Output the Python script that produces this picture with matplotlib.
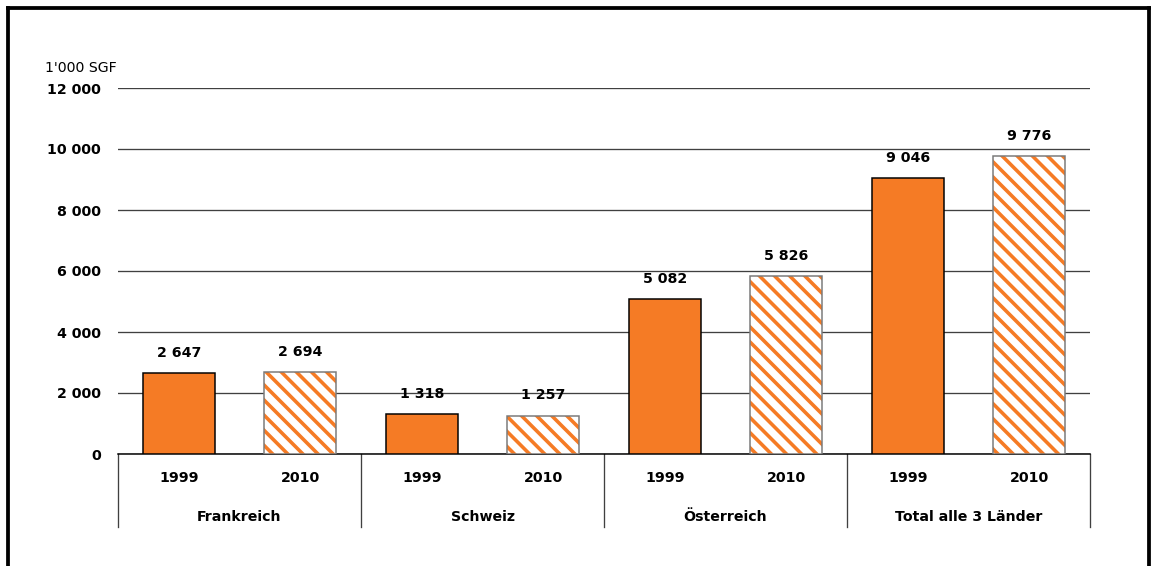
import matplotlib.pyplot as plt
from matplotlib.lines import Line2D
import matplotlib.transforms as mtransforms

# data
countries = ['Frankreich', 'Schweiz', 'Österreich', 'Total alle 3 Länder']
years = ['1999', '2010']
values_1999 = [2647, 1318, 5082, 9046]
values_2010 = [2694, 1257, 5826, 9776]
y_ticks = [0, 2000, 4000, 6000, 8000, 10000, 12000]

ORANGE = '#F57B25'
DPI = 136
W, H = 1156, 566

plt.rcParams['hatch.linewidth'] = 1.9
plt.rcParams['font.family'] = ['DejaVu Sans']

fig = plt.figure(figsize=(W / DPI, H / DPI), dpi=DPI)
ax = fig.add_axes([118 / W, 1 - 454 / H, (1090 - 118) / W, (454 - 88) / H])

def fmt(v):
    return f'{v:,}'.replace(',', ' ')

x1 = [2 * i for i in range(len(countries))]
x2 = [2 * i + 1 for i in range(len(countries))]
bw = 0.59

ax.bar(x1, values_1999, width=bw, color=ORANGE, edgecolor='black', linewidth=0.8, zorder=3)
ax.bar(x2, values_2010, width=bw, color='white', edgecolor=ORANGE, hatch='\\\\\\', linewidth=0, zorder=3)
ax.bar(x2, values_2010, width=bw, color='none', edgecolor='#7a7a7a', linewidth=0.8, zorder=4)

for xs, vals in ((x1, values_1999), (x2, values_2010)):
    for x, v in zip(xs, vals):
        ax.annotate(fmt(v), (x, v), xytext=(0, 7), textcoords='offset points',
                    ha='center', va='bottom', fontsize=7.5, fontweight='bold')

ax.set_xlim(-0.5, 7.5)
ax.set_ylim(0, 12000)
ax.set_yticks(y_ticks)
ax.set_yticklabels([fmt(t) for t in y_ticks], fontsize=7.5, fontweight='bold')
ax.tick_params(axis='y', length=0, pad=9)
ax.tick_params(axis='x', length=0, labelbottom=False)
ax.yaxis.grid(True, color='#404040', linewidth=0.7, zorder=0)
for s in ('top', 'right', 'left'):
    ax.spines[s].set_visible(False)
ax.spines['bottom'].set_color('black')
ax.spines['bottom'].set_linewidth(0.8)

# category axis
trans = mtransforms.blended_transform_factory(ax.transData, ax.transAxes)
for x in x1 + x2:
    ax.text(x, -24 / 366, years[x % 2], transform=trans, ha='center', va='center',
            fontsize=7.5, fontweight='bold')
for i, c in enumerate(countries):
    ax.text(2 * i + 0.5, -63 / 366, c, transform=trans, ha='center', va='center',
            fontsize=7.5, fontweight='bold')
for i in range(len(countries) + 1):
    ax.add_line(Line2D([2 * i - 0.5, 2 * i - 0.5], [0, -73 / 366], transform=trans,
                       color='#404040', linewidth=0.7, clip_on=False))

fig.text(45 / W, 1 - 68 / H, "1'000 SGF", fontsize=7.5, va='center', ha='left')

# frame
fig.add_artist(Line2D([8 / W, 1149 / W], [1 - 8 / H, 1 - 8 / H], transform=fig.transFigure, color='black', linewidth=2))
fig.add_artist(Line2D([8 / W, 8 / W], [0, 1 - 8 / H], transform=fig.transFigure, color='black', linewidth=2))
fig.add_artist(Line2D([1149 / W, 1149 / W], [0, 1 - 8 / H], transform=fig.transFigure, color='black', linewidth=2))

fig.savefig('out.png', dpi=DPI)
